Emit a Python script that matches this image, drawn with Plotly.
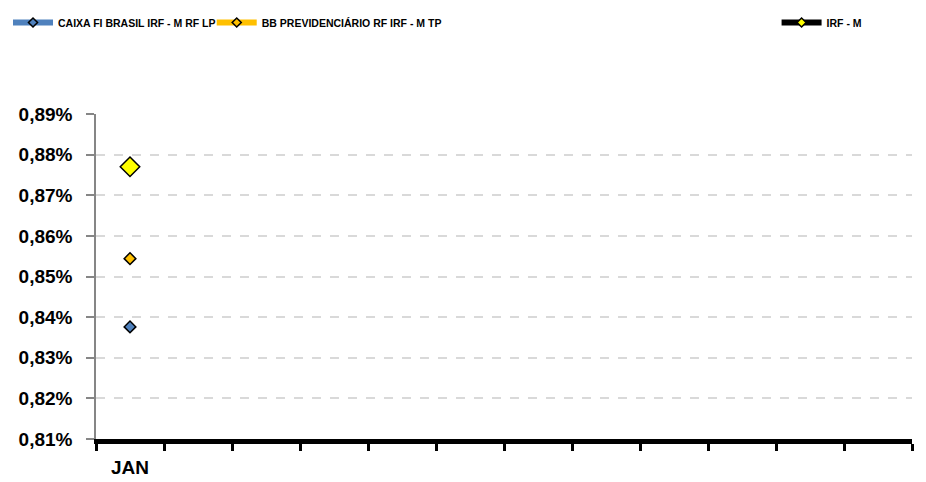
import plotly.graph_objects as go

# categories (only the first month is labelled / filled)
months = ["JAN", "", "", "", "", "", "", "", "", "", "", ""]

series_names = [
    "CAIXA FI BRASIL IRF - M RF LP",
    "BB PREVIDENCIÁRIO RF IRF - M TP",
    "IRF - M",
]
caixa = [0.008376]
bb_prev = [0.008544]
irf_m = [0.008770]

y_ticks = [0.0081, 0.0082, 0.0083, 0.0084, 0.0085, 0.0086, 0.0087, 0.0088, 0.0089]

styles = [
    dict(line="#4F81BD", fill="#4F81BD", size=9, legend="legend", lx=0.0),
    dict(line="#FFC000", fill="#FFC000", size=9, legend="legend2", lx=0.220),
    dict(line="#000000", fill="#FFFF00", size=15, legend="legend3", lx=0.830),
]

fig = go.Figure()

for name, vals, st in zip(series_names, [caixa, bb_prev, irf_m], styles):
    # visible series
    fig.add_trace(go.Scatter(
        x=list(range(len(vals))),
        y=vals,
        name=name,
        mode="lines+markers",
        showlegend=False,
        line=dict(color=st["line"], width=5),
        marker=dict(
            symbol="diamond",
            size=st["size"],
            color=st["fill"],
            line=dict(color="#000000", width=1.5)
        )
    ))
    # legend entry with small marker, like the excel legend
    fig.add_trace(go.Scatter(
        x=[None],
        y=[None],
        name=name,
        mode="lines+markers",
        legend=st["legend"],
        line=dict(color=st["line"], width=6),
        marker=dict(
            symbol="diamond",
            size=7,
            color=st["fill"],
            line=dict(color="#000000", width=1.5)
        )
    ))

legend_font = dict(
    family="Liberation Sans",
    size=10.5,
    color="#000000",
    weight="bold"
)

def legend_box(x):
    return dict(
        orientation="h",
        xref="container",
        yref="container",
        x=x,
        y=1.0,
        xanchor="left",
        yanchor="top",
        itemwidth=40,
        font=legend_font,
        bgcolor="rgba(0,0,0,0)",
    )

fig.update_layout(
    width=926,
    height=482,
    template="plotly_white",
    paper_bgcolor="#FFFFFF",
    plot_bgcolor="#FFFFFF",
    separators=",.",
    # the page adds an 8px body margin, so the margins are shifted by it
    margin=dict(l=88, r=22, t=106, b=51),
    font=dict(family="Liberation Sans", size=14, color="#000000"),
    showlegend=True,
    legend=legend_box(styles[0]["lx"]),
    legend2=legend_box(styles[1]["lx"]),
    legend3=legend_box(styles[2]["lx"]),
    xaxis=dict(
        range=[-0.5, 11.5],
        tickmode="array",
        tickvals=list(range(len(months))),
        ticktext=months,
        ticks="",
        showgrid=False,
        zeroline=False,
        showline=True,
        linecolor="#000000",
        linewidth=5,
        automargin=False,
        tickfont=dict(size=19, weight="bold"),
        ticklabelstandoff=7,
        minor=dict(
            ticks="outside",
            tick0=-0.5,
            dtick=1,
            ticklen=7,
            tickwidth=3,
            tickcolor="#000000",
            showgrid=False,
        ),
    ),
    yaxis=dict(
        range=[0.0081, 0.0089],
        tickmode="array",
        tickvals=y_ticks,
        tickformat=".2%",
        ticks="outside",
        ticklen=8,
        tickwidth=1.5,
        tickcolor="#868686",
        showline=True,
        linecolor="#868686",
        linewidth=1.5,
        showgrid=True,
        gridcolor="#D9D9D9",
        griddash="dash",
        gridwidth=1.5,
        zeroline=False,
        automargin=False,
        ticklabelstandoff=10,
        tickfont=dict(size=19, weight="bold"),
    ),
)

fig.write_html("out.html")
